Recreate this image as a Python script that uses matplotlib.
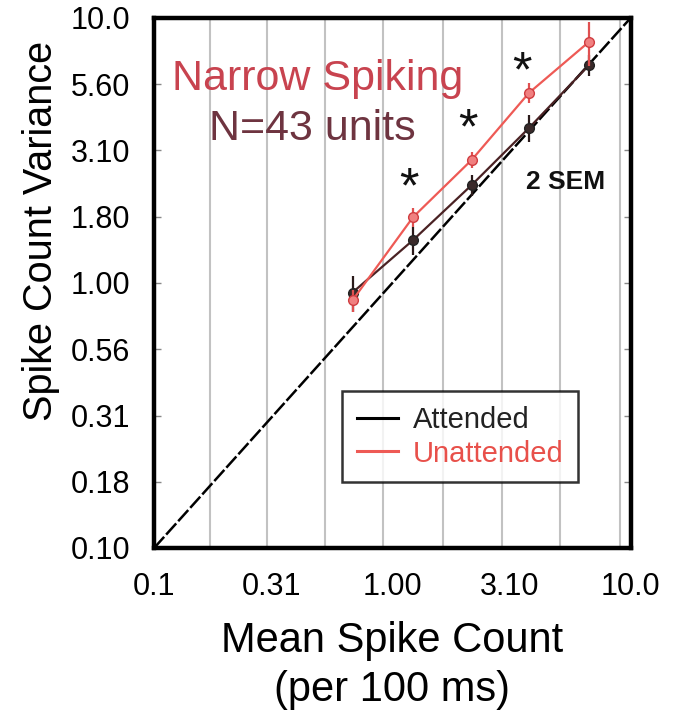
import matplotlib
matplotlib.use("Agg")
import matplotlib.pyplot as plt
from matplotlib.ticker import FixedLocator, NullLocator

plt.rcParams["font.family"] = ["Liberation Sans", "DejaVu Sans"]

# data (mean, variance per 100 ms)
att_mean = [0.68, 1.22, 2.15, 3.74, 6.7]
att_var = [0.92, 1.45, 2.34, 3.84, 6.65]
att_err = [0.14, 0.17, 0.22, 0.45, 0.6]
unatt_mean = [0.68, 1.22, 2.15, 3.74, 6.67]
unatt_var = [0.86, 1.77, 2.91, 5.21, 8.11]
unatt_err = [0.08, 0.15, 0.2, 0.45, 1.5]
star_x = [1.17, 2.07, 3.49]
star_y = [2.26, 3.75, 6.2]
grid_x = [0.172, 0.298, 0.52, 0.91, 1.63, 2.88, 5.04, 9.0]
xticks = [0.1, 0.31, 1.0, 3.1, 10.0]
xticklabels = ["0.1", "0.31", "1.00", "3.10", "10.0"]
yticks = [0.1, 0.178, 0.316, 0.562, 1.0, 1.78, 3.16, 5.62, 10.0]
yticklabels = ["0.10", "0.18", "0.31", "0.56", "1.00", "1.80", "3.10", "5.60", "10.0"]

fig = plt.figure(figsize=(6.76, 7.15), dpi=100)
ax = fig.add_axes([0.228, 0.2336, 0.705, 0.7414])
ax.set_xscale("log"); ax.set_yscale("log")
ax.set_xlim(0.1, 10); ax.set_ylim(0.1, 10)

for gx in grid_x:
    ax.axvline(gx, color="#c2c2c2", lw=1.5, zorder=0)
ax.plot([0.1, 10], [0.1, 10], color="black", lw=1.8, ls=(0, (6, 1.2)), zorder=1)

ax.errorbar(att_mean, att_var, yerr=att_err, color="#4a2224", lw=1.6,
            marker="o", ms=7, mfc="#3a2a2a", mec="#222222", ecolor="#2a1a1a",
            elinewidth=1.6, capsize=0, zorder=3)
ax.errorbar(unatt_mean, unatt_var, yerr=unatt_err, color="#ee5a55", lw=1.6,
            marker="o", ms=7, mfc="#f08080", mec="#d03c40", ecolor="#e05050",
            elinewidth=1.6, capsize=0, zorder=4)

for sx, sy in zip(star_x, star_y):
    ax.text(sx, sy, "*", fontsize=36, ha="center", va="center", color="#111111")
ax.text(0.864, 0.69, "2 SEM", fontsize=19, fontweight="bold", ha="center",
        va="center", color="#111111", transform=ax.transAxes)
ax.text(0.344, 0.885, "Narrow Spiking", fontsize=31, ha="center", va="center",
        color="#c8434f", transform=ax.transAxes)
ax.text(0.331, 0.79, "N=43 units", fontsize=31, ha="center", va="center",
        color="#6e3440", transform=ax.transAxes)

h1, = ax.plot([], [], color="black", lw=2.2)
h2, = ax.plot([], [], color="#ee5a55", lw=2.2)
leg = ax.legend([h1, h2], ["Attended", "Unattended"], loc="lower right",
                bbox_to_anchor=(0.889, 0.124), fontsize=21, frameon=True,
                fancybox=False, edgecolor="black", handlelength=1.4,
                handletextpad=0.5, borderpad=0.5, labelspacing=0.2,
                borderaxespad=0)
leg.get_frame().set_linewidth(1.8)
leg.get_texts()[0].set_color("#222222")
leg.get_texts()[1].set_color("#e8504a")

ax.xaxis.set_major_locator(FixedLocator(xticks))
ax.set_xticklabels(xticklabels)
ax.xaxis.set_minor_locator(NullLocator())
ax.yaxis.set_major_locator(FixedLocator(yticks))
ax.set_yticklabels(yticklabels)
ax.yaxis.set_minor_locator(NullLocator())
ax.tick_params(axis="both", labelsize=22, direction="in", length=5, width=1,
               color="#888888")
ax.tick_params(axis="y", right=True, pad=17)
ax.tick_params(axis="x", length=0, pad=17)
for sp in ax.spines.values():
    sp.set_linewidth(3.2)

ax.set_xlabel("Mean Spike Count\n(per 100 ms)", fontsize=30, linespacing=1.3)
ax.xaxis.set_label_coords(0.5, -0.137)
ax.set_ylabel("Spike Count Variance", fontsize=28.5)
ax.yaxis.set_label_coords(-0.198, 0.598)

fig.savefig("out.png", dpi=100)
